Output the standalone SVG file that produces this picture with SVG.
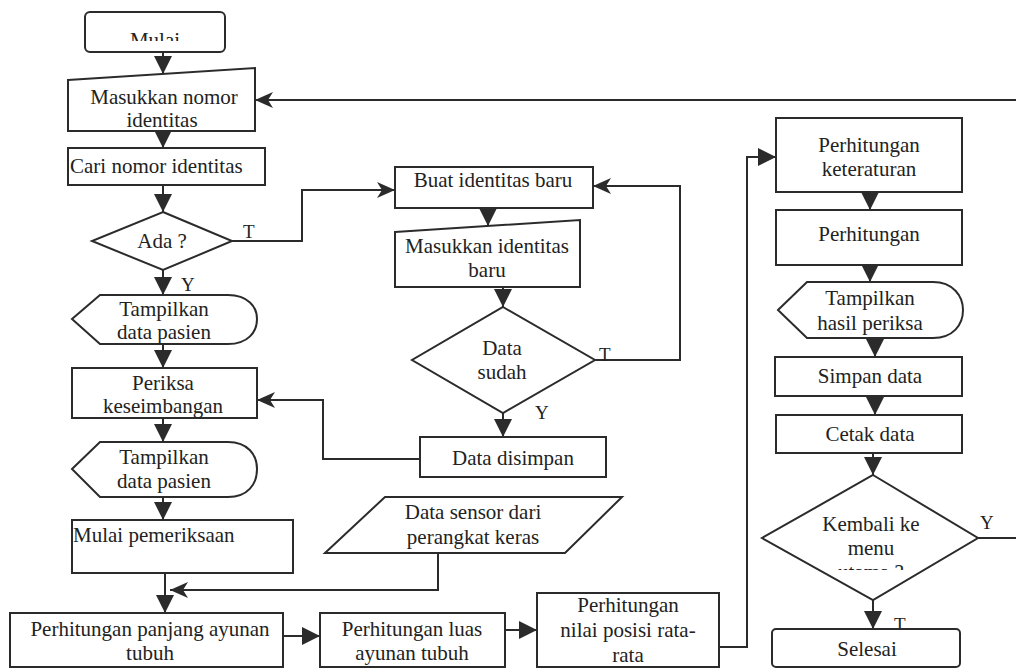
<svg xmlns="http://www.w3.org/2000/svg" width="1016" height="669" viewBox="0 0 1016 669">
<style>
.s{fill:#fff;stroke:#2b2b2b;stroke-width:2}
.t{font-family:"Liberation Serif","Times New Roman",serif;font-size:21px;fill:#222;text-anchor:middle}
.l{text-anchor:start}
.lab{font-family:"Liberation Serif","Times New Roman",serif;font-size:19px;fill:#222}
.c{fill:none;stroke:#2b2b2b;stroke-width:2}
.a{marker-end:url(#tri)}
.b{marker-end:url(#barb)}
</style>
<defs>
<marker id="tri" viewBox="0 0 18 18" refX="18" refY="9" markerWidth="18" markerHeight="18" markerUnits="userSpaceOnUse" orient="auto"><path d="M0,0 L18,9 L0,18 Z" fill="#2b2b2b"/></marker>
<marker id="barb" viewBox="0 0 18 16" refX="18" refY="8" markerWidth="18" markerHeight="16" markerUnits="userSpaceOnUse" orient="auto"><path d="M0,0 L18,8 L0,16 L5,8 Z" fill="#2b2b2b"/></marker>
<clipPath id="cm"><rect x="85" y="12" width="140" height="29"/></clipPath>
<clipPath id="ck"><rect x="800" y="540" width="150" height="30"/></clipPath>
</defs>
<rect width="1016" height="669" fill="#fff"/>

<g id="connectors">
<path class="c a" d="M163,52 L163,74"/>
<path class="c a" d="M163,131 L163,148"/>
<path class="c a" d="M163,185 L163,212"/>
<path class="c a" d="M163,270 L163,295"/>
<path class="c a" d="M163,344 L163,368"/>
<path class="c a" d="M163,418 L163,442"/>
<path class="c a" d="M163,497 L163,520"/>
<path class="c a" d="M165,573 L165,613"/>
<path class="c b" d="M438,553 L438,590 L170,590"/>
<path class="c a" d="M283,636 L320,636"/>
<path class="c a" d="M505,630 L537,630"/>
<path class="c a" d="M719,647 L747,647 L747,157 L776,157"/>
<path class="c b" d="M232,241 L302,241 L302,190 L395,190"/>
<path class="c a" d="M488,208 L488,226"/>
<path class="c a" d="M503,287 L503,307"/>
<path class="c b" d="M595,360 L680,360 L680,186 L593,186"/>
<path class="c a" d="M503,413 L503,437"/>
<path class="c b" d="M420,459 L323,459 L323,400 L257,400"/>
<path class="c a" d="M870,192 L870,210"/>
<path class="c a" d="M870,265 L870,282"/>
<path class="c a" d="M875,338 L875,357"/>
<path class="c a" d="M875,396 L875,415"/>
<path class="c a" d="M873,453 L873,475"/>
<path class="c a" d="M873,600 L873,629"/>
<path class="c b" d="M978,538 L1022,538 L1022,100 L255,100"/>
<text class="lab" x="243" y="238">T</text>
<text class="lab" x="181" y="291">Y</text>
<text class="lab" x="599" y="361">T</text>
<text class="lab" x="535" y="419">Y</text>
<text class="lab" x="980" y="529">Y</text>
<text class="lab" x="894" y="631">T</text>
</g>

<g id="mulai">
<rect class="s" x="85" y="12" width="140" height="40" rx="5"/>
<text class="t" x="155" y="47" clip-path="url(#cm)">Mulai</text>
</g>
<g id="masukkan-nomor">
<path class="s" d="M68,80 L255,68 L255,131 L68,131 Z"/>
<text class="t" x="164" y="104">Masukkan nomor</text>
<text class="t" x="162" y="127">identitas</text>
</g>
<g id="cari">
<rect class="s" x="68" y="148" width="197" height="37"/>
<text class="t l" x="70" y="173">Cari nomor identitas</text>
</g>
<g id="ada">
<path class="s" d="M163,212 L232,241 L163,270 L92,241 Z"/>
<text class="t" x="162" y="248">Ada ?</text>
</g>
<g id="tampilkan-1">
<path class="s" d="M72,319 L100,295 L228,295 C248,295 257,307 257,319 C257,332 248,344 228,344 L100,344 Z"/>
<text class="t" x="164" y="316">Tampilkan</text>
<text class="t" x="164" y="339">data pasien</text>
</g>
<g id="periksa">
<rect class="s" x="72" y="368" width="185" height="50"/>
<text class="t" x="163" y="390">Periksa</text>
<text class="t" x="163" y="413">keseimbangan</text>
</g>
<g id="tampilkan-2">
<path class="s" d="M72,469 L100,442 L228,442 C248,442 257,455 257,469 C257,484 248,497 228,497 L100,497 Z"/>
<text class="t" x="164" y="464">Tampilkan</text>
<text class="t" x="164" y="488">data pasien</text>
</g>
<g id="mulai-pemeriksaan">
<rect class="s" x="72" y="520" width="221" height="53"/>
<text class="t l" x="73" y="542">Mulai pemeriksaan</text>
</g>
<g id="panjang">
<rect class="s" x="10" y="613" width="273" height="54"/>
<text class="t" x="150" y="636">Perhitungan panjang ayunan</text>
<text class="t" x="150" y="660">tubuh</text>
</g>
<g id="luas">
<rect class="s" x="320" y="613" width="185" height="54"/>
<text class="t" x="412" y="636">Perhitungan luas</text>
<text class="t" x="412" y="660">ayunan tubuh</text>
</g>
<g id="rata">
<rect class="s" x="537" y="593" width="182" height="74"/>
<text class="t" x="628" y="612">Perhitungan</text>
<text class="t" x="628" y="637">nilai posisi rata-</text>
<text class="t" x="628" y="662">rata</text>
</g>
<g id="buat">
<rect class="s" x="395" y="167" width="198" height="41"/>
<text class="t" x="493" y="187">Buat identitas baru</text>
</g>
<g id="masukkan-identitas">
<path class="s" d="M395,232 L580,220 L580,287 L395,287 Z"/>
<text class="t" x="487" y="253">Masukkan identitas</text>
<text class="t" x="487" y="277">baru</text>
</g>
<g id="data-sudah">
<path class="s" d="M503,307 L595,360 L503,413 L412,360 Z"/>
<text class="t" x="502" y="355">Data</text>
<text class="t" x="502" y="379">sudah</text>
</g>
<g id="data-disimpan">
<rect class="s" x="420" y="437" width="186" height="40"/>
<text class="t" x="513" y="465">Data disimpan</text>
</g>
<g id="data-sensor">
<path class="s" d="M385,497 L622,497 L565,553 L325,553 Z"/>
<text class="t" x="473" y="519">Data sensor dari</text>
<text class="t" x="473" y="544">perangkat keras</text>
</g>
<g id="keteraturan">
<rect class="s" x="776" y="118" width="186" height="74"/>
<text class="t" x="869" y="152">Perhitungan</text>
<text class="t" x="869" y="176">keteraturan</text>
</g>
<g id="perhitungan-2">
<rect class="s" x="776" y="210" width="186" height="55"/>
<text class="t" x="869" y="241">Perhitungan</text>
</g>
<g id="tampilkan-hasil">
<path class="s" d="M778,310 L807,282 L933,282 C953,282 963,296 963,310 C963,325 953,338 933,338 L807,338 Z"/>
<text class="t" x="870" y="305">Tampilkan</text>
<text class="t" x="870" y="330">hasil periksa</text>
</g>
<g id="simpan">
<rect class="s" x="775" y="357" width="187" height="39"/>
<text class="t" x="870" y="383">Simpan data</text>
</g>
<g id="cetak">
<rect class="s" x="776" y="415" width="186" height="38"/>
<text class="t" x="870" y="441">Cetak data</text>
</g>
<g id="kembali">
<path class="s" d="M873,475 L978,538 L873,600 L762,538 Z"/>
<text class="t" x="871" y="531">Kembali ke</text>
<text class="t" x="871" y="555">menu</text>
<text class="t" x="871" y="579" clip-path="url(#ck)">utama ?</text>
</g>
<g id="selesai">
<rect class="s" x="772" y="629" width="188" height="38" rx="4"/>
<text class="t" x="867" y="656">Selesai</text>
</g>
</svg>
